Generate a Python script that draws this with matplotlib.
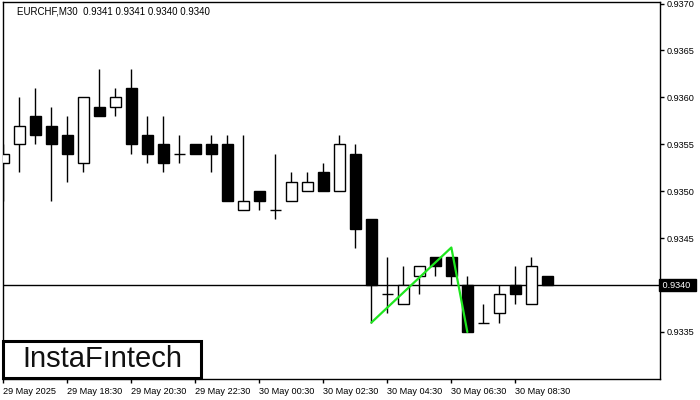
import matplotlib
matplotlib.use("Agg")
import matplotlib.pyplot as plt
from matplotlib.patches import Rectangle
from matplotlib.transforms import blended_transform_factory

symbol_title = "EURCHF,M30  0.9341 0.9341 0.9340 0.9340"

opens = [0.9353, 0.9355, 0.9358, 0.9357, 0.9356, 0.9353, 0.9359, 0.9359, 0.9361, 0.9356,
         0.9355, 0.9354, 0.9355, 0.9355, 0.9355, 0.9348, 0.9350, 0.9348, 0.9349, 0.9350,
         0.9352, 0.9350, 0.9354, 0.9347, 0.9339, 0.9338, 0.9341, 0.9343, 0.9343, 0.9340,
         0.9336, 0.9337, 0.9340, 0.9338, 0.9341]
highs = [0.9355, 0.9360, 0.9361, 0.9359, 0.9358, 0.9360, 0.9363, 0.9361, 0.9363, 0.9358,
         0.9358, 0.9356, 0.9355, 0.9356, 0.9356, 0.9356, 0.9350, 0.9354, 0.9352, 0.9352,
         0.9353, 0.9356, 0.9355, 0.9347, 0.9343, 0.9342, 0.9342, 0.9343, 0.9343, 0.9341,
         0.9338, 0.9340, 0.9342, 0.9343, 0.9341]
lows = [0.9349, 0.9352, 0.9355, 0.9349, 0.9351, 0.9352, 0.9358, 0.9358, 0.9354, 0.9353,
        0.9352, 0.9353, 0.9354, 0.9352, 0.9349, 0.9348, 0.9348, 0.9347, 0.9349, 0.9350,
        0.9350, 0.9350, 0.9344, 0.9336, 0.9337, 0.9338, 0.9339, 0.9341, 0.9340, 0.9335,
        0.9336, 0.9336, 0.9338, 0.9338, 0.9340]
closes = [0.9354, 0.9357, 0.9356, 0.9355, 0.9354, 0.9360, 0.9358, 0.9360, 0.9355, 0.9354,
          0.9353, 0.9354, 0.9354, 0.9354, 0.9349, 0.9349, 0.9349, 0.9348, 0.9351, 0.9351,
          0.9350, 0.9355, 0.9346, 0.9340, 0.9339, 0.9340, 0.9342, 0.9342, 0.9341, 0.9335,
          0.9336, 0.9339, 0.9339, 0.9342, 0.9340]

x_tick_index = [0, 4, 8, 12, 16, 20, 24, 28, 32]
x_tick_labels = ["29 May 2025", "29 May 18:30", "29 May 20:30", "29 May 22:30",
                 "30 May 00:30", "30 May 02:30", "30 May 04:30", "30 May 06:30",
                 "30 May 08:30"]
y_ticks = [0.9335, 0.9340, 0.9345, 0.9350, 0.9355, 0.9360, 0.9365, 0.9370]

current_price = 0.9340
pattern_index = [23, 28, 29]
pattern_price = [0.9336, 0.9344, 0.9335]

FONT = ["Liberation Sans", "DejaVu Sans"]
plt.rcParams["font.family"] = FONT

fig = plt.figure(figsize=(7, 4), dpi=100)
ax = fig.add_axes([2.5 / 700, 21 / 400, (660 - 2.5) / 700, (379 - 2) / 400])

n = len(opens)
xs = list(range(n))

# wicks
ax.vlines(xs, lows, highs, colors="black", linewidth=1, zorder=2)
# bodies
bottoms = [min(o, c) for o, c in zip(opens, closes)]
heights = [abs(c - o) for o, c in zip(opens, closes)]
faces = ["white" if c > o else "black" for o, c in zip(opens, closes)]
ax.bar(xs, heights, bottom=bottoms, width=0.66, color=faces,
       edgecolor="black", linewidth=1, zorder=3)

# current price line
ax.axhline(current_price, color="black", linewidth=1, zorder=1)

# pattern line
ax.plot(pattern_index, pattern_price, color="#1ee61e", linewidth=1.6, zorder=5,
        solid_capstyle="round", solid_joinstyle="round")

ax.set_xlim(-0.05, 41.04)
ax.set_ylim(0.932999, 0.937016)

ax.yaxis.tick_right()
ax.set_yticks(y_ticks)
# the current-price box sits on the 0.9340 tick, so that tick has no own label
ax.set_yticklabels(["" if abs(v - current_price) < 1e-9 else f"{v:.4f}" for v in y_ticks])
ax.tick_params(axis="y", direction="out", length=3, width=1, pad=2,
               labelsize=6.6, colors="black")
ax.set_xticks(x_tick_index)
ax.set_xticklabels(x_tick_labels, ha="left")
ax.tick_params(axis="x", direction="out", length=3, width=1, pad=3,
               labelsize=6.6, colors="black")

for sp in ax.spines.values():
    sp.set_linewidth(1)
    sp.set_color("black")

# current price box on axis
trans = blended_transform_factory(ax.transAxes, ax.transData)
ax.text(1.0, current_price, f" {current_price:.4f}  ", transform=trans, ha="left",
        va="center", fontsize=6.6, color="white", zorder=10, clip_on=False,
        bbox=dict(boxstyle="square,pad=0.12", fc="black", ec="black"))

# title
fig.text(17 / 700, 1 - 12 / 400, symbol_title, ha="left", va="center",
         fontsize=7, color="black")

# logo
fig.patches.append(Rectangle((3 / 700, 22 / 400), 198 / 700, 37 / 400,
                             transform=fig.transFigure, facecolor="white",
                             edgecolor="black", linewidth=2.2, zorder=20))
fig.text(102 / 700, 1 - 359 / 400, "InstaFıntech", ha="center", va="center",
         fontsize=21, color="#111111", zorder=21)

fig.savefig("out.png", dpi=100)
